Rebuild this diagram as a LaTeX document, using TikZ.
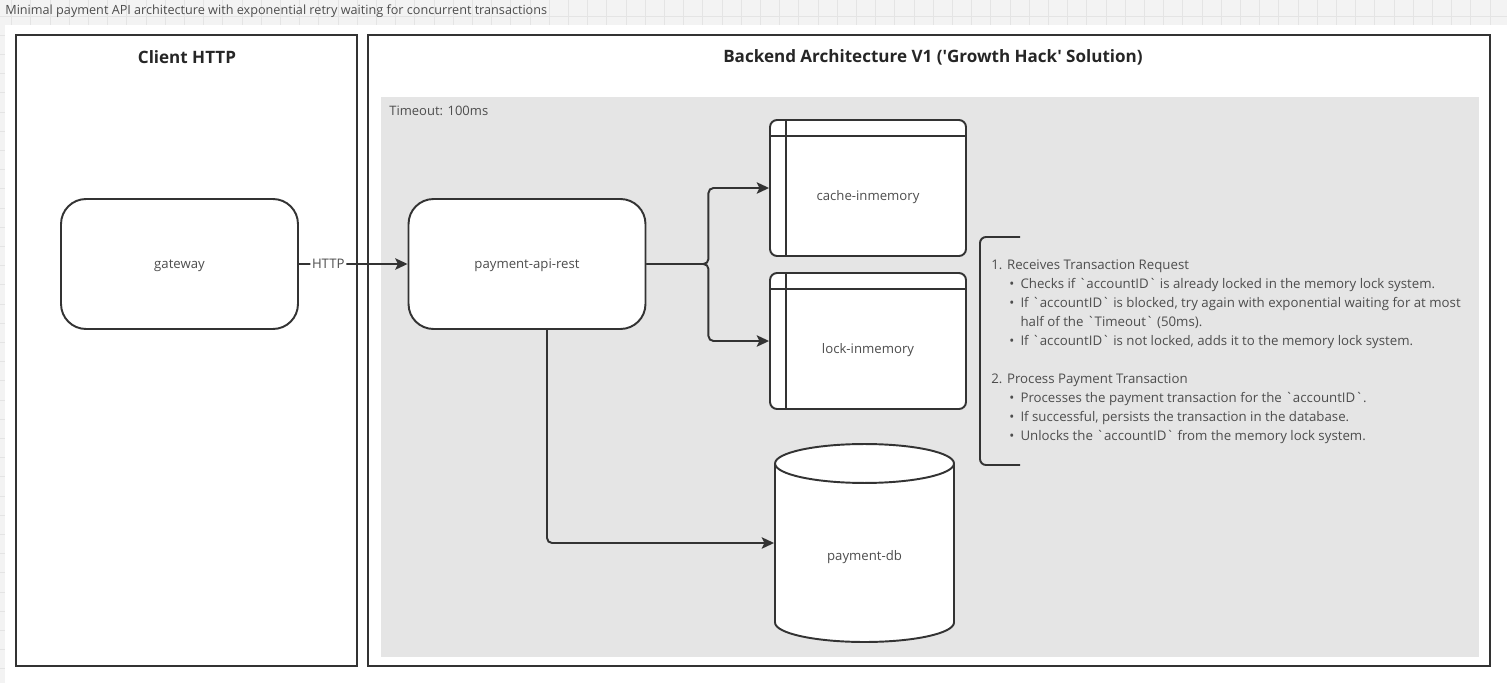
\documentclass[tikz,border=0pt]{standalone}
\usepackage{fontspec}
\setmainfont{Open Sans}
\usetikzlibrary{arrows.meta,shapes.geometric}

\definecolor{linecol}{HTML}{333333}
\definecolor{zonecol}{HTML}{E5E5E5}
\definecolor{pagecol}{HTML}{F3F3F3}
\definecolor{gridcol}{HTML}{E4E4E4}
\definecolor{labelcol}{HTML}{4D4D4D}

\newcommand\bq{\textasciigrave}
\newcommand\noteitem[1]{\hspace*{10.2pt}\makebox[6.4pt][l]{\textbullet}#1}

\tikzset{
  frame/.style={draw=linecol, line width=1.2pt},
  lanetitle/.style={font=\bfseries\fontsize{9.7}{11}\selectfont, text=black!85},
  service/.style={draw=linecol, line width=1.1pt, fill=white, rounded corners=0.5cm,
    minimum width=4.74cm, minimum height=2.6cm, font=\fontsize{7.5}{9}\selectfont, text=labelcol,
    text height=6.8pt, text depth=1.6pt},
  memstore/.style={draw=linecol, line width=1.1pt, fill=white, rounded corners=0.14cm,
    minimum width=3.92cm, minimum height=2.72cm, font=\fontsize{7.5}{9}\selectfont, text=labelcol,
    text height=16.5pt, text depth=1.8pt},
  dbstore/.style={draw=linecol, line width=1.1pt, fill=white, shape=cylinder,
    shape border rotate=90, aspect=0.45, minimum width=3.58cm, minimum height=3.96cm,
    font=\fontsize{7.5}{9}\selectfont, text=labelcol},
  conn/.style={draw=linecol, line width=1.1pt, rounded corners=0.1cm,
    -{Stealth[length=7pt,width=6.5pt,inset=1.5pt]}},
  note/.style={font=\fontsize{7.55}{10.84}\selectfont, text=labelcol, align=left, inner sep=0pt},
}

\begin{document}
\begin{tikzpicture}[x=0.02cm, y=-0.02cm]
  \useasboundingbox (0,0) rectangle (1507,683);

  % page and canvas
  \fill[pagecol] (0,0) rectangle (1507,683);
  \foreach \gx in {11.6,30.8,...,1507}
    \draw[gridcol, line width=0.5pt] (\gx,0) -- (\gx,25);
  \foreach \gy in {16,35.2,...,683}
    \draw[gridcol, line width=0.5pt] (0,\gy) -- (5,\gy);
  \draw[gridcol, line width=0.5pt] (0,16) -- (1507,16);
  \fill[white] (5,25) rectangle (1507,683);
  \node[anchor=west, inner sep=0pt, font=\fontsize{7.2}{8}\selectfont, text=labelcol]
    (caption) at (5,11) {Minimal payment API architecture with exponential retry waiting for concurrent transactions};

  % lanes
  \draw[frame] (16,35) rectangle (357,666);
  \draw[frame] (368,35) rectangle (1490,666);
  \node[lanetitle] (clienttitle) at (187,57) {Client HTTP};
  \node[lanetitle] (backendtitle) at (933,57)
    {Backend Architecture V1 (\textquotesingle Growth Hack\textquotesingle{} Solution)};
  \fill[zonecol] (381,97) rectangle (1479,657);
  \node[anchor=west, inner sep=0pt, font=\fontsize{7.4}{9}\selectfont, text=labelcol]
    (timeout) at (389,111) {Timeout: 100ms};

  % services
  \node[service] (gateway) at (179.5,264) {gateway};
  \node[service] (api) at (527,264) {payment-api-rest};
  \node[memstore] (cache) at (868,188) {cache-inmemory};
  \node[memstore] (lock) at (868,341) {lock-inmemory};
  \foreach \store in {cache,lock} {
    \draw[linecol, line width=1.1pt] ([xshift=0.34cm]\store.north west) -- ([xshift=0.34cm]\store.south west);
    \draw[linecol, line width=1.1pt] ([yshift=-0.34cm]\store.north west) -- ([yshift=-0.34cm]\store.north east);
  }
  \node[dbstore, anchor=shape center] (db) at (864.5,543) {payment-db};

  % connections
  \draw[conn] (gateway) -- node[pos=0.27, fill=white, inner sep=1pt, font=\fontsize{7.5}{9}\selectfont, text=labelcol] (httplabel) {HTTP} (api);
  \draw[conn] (api.east) -- ++(62,0) |- (cache);
  \draw[conn] (api.east) -- ++(62,0) |- (lock);
  \draw[conn] ([xshift=0.4cm]api.south) |- (db.shape center -| db.west);

  % steps
  \draw[linecol, line width=1.1pt, rounded corners=0.12cm] (1020,237) -- (980,237) -- (980,465) -- (1020,465);
  \node[note, anchor=north west] (steps) at (991,259) {%
    1. Receives Transaction Request\\
    \noteitem{Checks if \bq accountID\bq{} is already locked in the memory lock system.}\\
    \noteitem{If \bq accountID\bq{} is blocked, try again with exponential waiting for at most}\\
    \hspace*{16.6pt}half of the \bq Timeout\bq{} (50ms).\\
    \noteitem{If \bq accountID\bq{} is not locked, adds it to the memory lock system.}\\[10.84pt]
    2. Process Payment Transaction\\
    \noteitem{Processes the payment transaction for the \bq accountID\bq.}\\
    \noteitem{If successful, persists the transaction in the database.}\\
    \noteitem{Unlocks the \bq accountID\bq{} from the memory lock system.}};
\end{tikzpicture}
\end{document}
